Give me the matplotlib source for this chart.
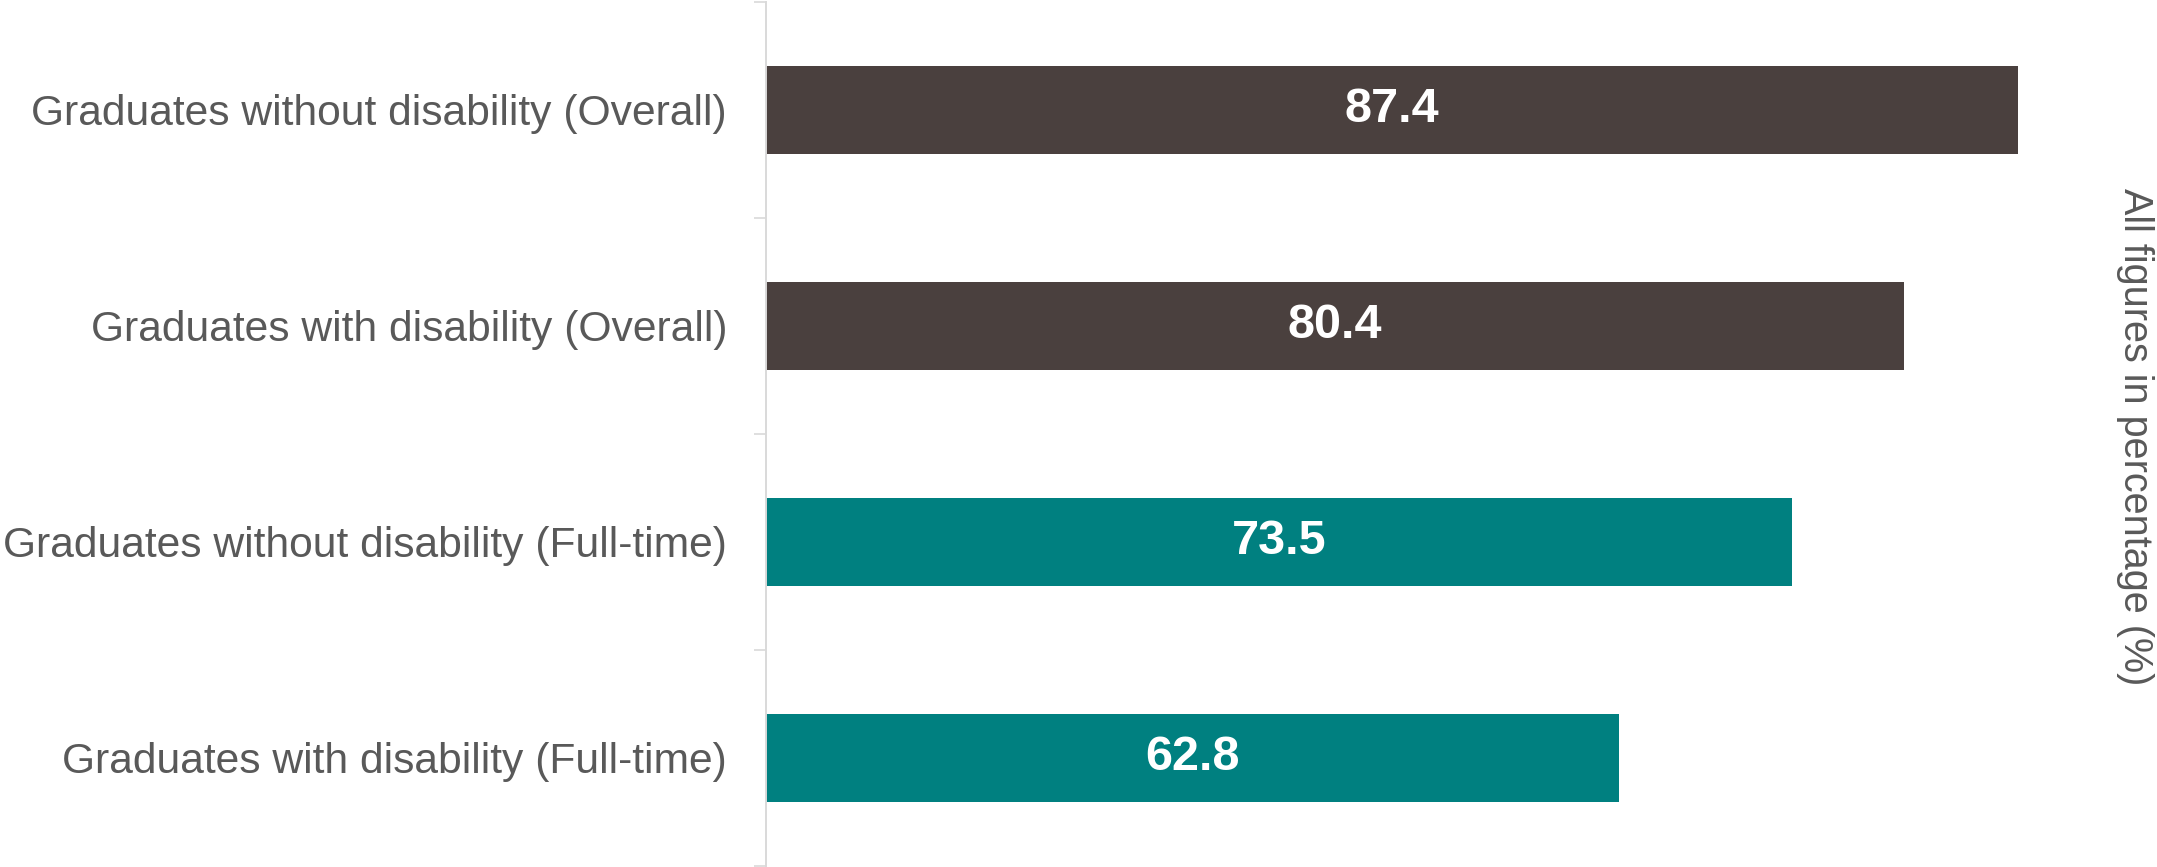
import matplotlib
matplotlib.use("Agg")
import matplotlib.pyplot as plt

# datos
categories = [
    "Graduates without disability (Overall)",
    "Graduates with disability (Overall)",
    "Graduates without disability (Full-time)",
    "Graduates with disability (Full-time)",
]
values = [87.4, 80.4, 73.5, 62.8]
bar_colors = ["#4A403E", "#4A403E", "#008080", "#008080"]

plt.rcParams['font.family'] = ['Liberation Sans', 'DejaVu Sans']

fig = plt.figure(figsize=(21.57, 8.67), dpi=100)
ax = fig.add_axes([766 / 2157, 1 / 867, (2060 - 766) / 2157, 864 / 867])

pos = list(range(len(categories)))
ax.barh(pos, values, height=0.41, color=bar_colors, zorder=2)

x_min, x_max = 10.2, 90
ax.set_xlim(x_min, x_max)
ax.set_ylim(3.5, -0.5)

# etiquetas dentro de las barras, centradas en la parte visible
for p, v in zip(pos, values):
    ax.text((x_min + v) / 2, p, f"{v:.1f}", ha='center', va='center',
            color='white', fontsize=35, fontweight='bold', zorder=3)

ax.set_yticks(pos)
ax.set_yticklabels(categories, fontsize=30.7, color='#595959')
ax.tick_params(axis='y', which='major', length=0, pad=28)
ax.set_yticks([-0.5, 0.5, 1.5, 2.5, 3.5], minor=True)
ax.tick_params(axis='y', which='minor', length=8.6, width=1.2, color='#D9D9D9')

ax.set_xticks([])
for s in ['top', 'right', 'bottom']:
    ax.spines[s].set_visible(False)
ax.spines['left'].set_color('#D9D9D9')
ax.spines['left'].set_linewidth(1.4)

fig.text(2135 / 2157, 1 - 437 / 867, "All figures in percentage (%)",
         rotation=-90, ha='center', va='center', fontsize=28.5, color='#595959')

fig.savefig("out.png", dpi=100)
